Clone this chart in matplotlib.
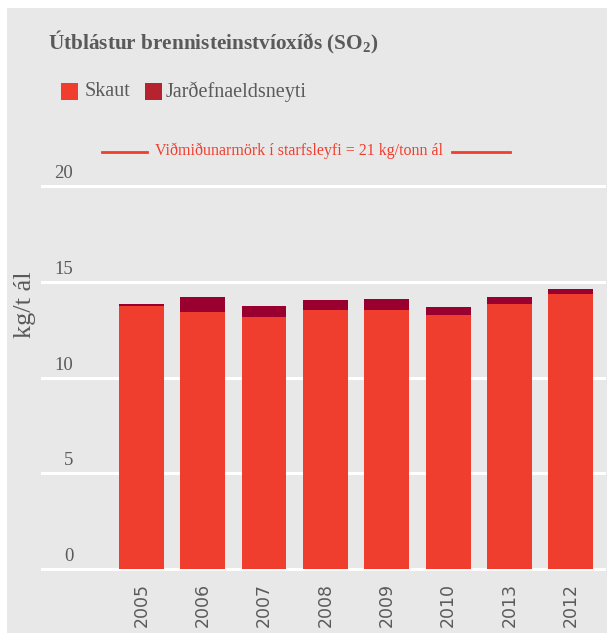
import matplotlib.pyplot as plt
from matplotlib.patches import Rectangle

years = ['2005', '2006', '2007', '2008', '2009', '2010', '2013', '2012']
skaut = [13.72, 13.40, 13.14, 13.51, 13.51, 13.25, 13.82, 14.35]
total = [13.82, 14.19, 13.72, 14.03, 14.08, 13.66, 14.19, 14.61]
jardefna = [t - s for t, s in zip(total, skaut)]
yticks = [0, 5, 10, 15, 20]

c_skaut = '#f03e2e'
c_jard = '#99002f'
c_text = '#5a5a5a'
bg = '#e8e8e8'
serif = ['Liberation Serif', 'DejaVu Serif']

plt.rcParams['mathtext.fontset'] = 'custom'
plt.rcParams['mathtext.rm'] = 'Liberation Serif'
plt.rcParams['mathtext.bf'] = 'Liberation Serif:bold'
plt.rcParams['mathtext.it'] = 'Liberation Serif:italic'

fig = plt.figure(figsize=(6.07, 6.33), dpi=100)
fig.patch.set_facecolor('white')
fig.patches.append(Rectangle((7 / 607, 0), 1, 1 - 8 / 633, transform=fig.transFigure,
                             facecolor=bg, edgecolor='none', zorder=-10))

ax = fig.add_axes([42 / 607, 64 / 633, 562 / 607, 383 / 633])
ax.set_facecolor(bg)
x = range(len(years))
ax.bar(x, skaut, width=0.73, color=c_skaut, zorder=3)
ax.bar(x, jardefna, bottom=skaut, width=0.73, color=c_jard, zorder=3)
ax.set_xlim(-1.62, 7.54)
ax.set_ylim(0, 20)
for s in ax.spines.values():
    s.set_visible(False)
for v in yticks:
    ax.axhline(v, color='white', lw=2.2, zorder=1, clip_on=False)
    ax.text(-1.11, v + 0.2, str(v), fontsize=13.5, color=c_text, ha='right', va='bottom',
            family=serif)
ax.set_yticks([])
ax.set_xticks(list(x))
ax.set_xticklabels(years, rotation=90, fontsize=12.5, color=c_text, family='DejaVu Sans')
ax.tick_params(axis='x', length=0, pad=10)

fig.text(25 / 607, 1 - 305 / 633, 'kg/t ál', rotation=90, fontsize=19, color=c_text,
         ha='center', va='center', family=serif)

fig.text(48 / 607, 1 - 42 / 633, r'Útblástur brennisteinstvíoxíðs (SO$_\mathbf{2}$)',
         fontsize=15.3, fontweight='bold', color=c_text, ha='left', va='center', family=serif)

# legend
fig.patches.append(Rectangle((61 / 607, 1 - 100 / 633), 17 / 607, 17 / 633,
                             transform=fig.transFigure, facecolor=c_skaut, edgecolor='none'))
fig.text(85 / 607, 1 - 92 / 633, 'Skaut', fontsize=14.5, color=c_text, ha='left', va='center',
         family=serif)
fig.patches.append(Rectangle((145 / 607, 1 - 100 / 633), 17 / 607, 17 / 633,
                             transform=fig.transFigure, facecolor='#b5232e', edgecolor='none'))
fig.text(166 / 607, 1 - 92 / 633, 'Jarðefnaeldsneyti', fontsize=14.5, color=c_text, ha='left',
         va='center', family=serif)

# reference limit
yl = 1 - 152 / 633
fig.add_artist(plt.Line2D([102 / 607, 147 / 607], [yl, yl], color=c_skaut, lw=2,
                          transform=fig.transFigure))
fig.add_artist(plt.Line2D([452 / 607, 510 / 607], [yl, yl], color=c_skaut, lw=2,
                          transform=fig.transFigure))
fig.text(299 / 607, yl + 1 / 633, 'Viðmiðunarmörk í starfsleyfi = 21 kg/tonn ál', fontsize=11.5,
         color=c_skaut, ha='center', va='center', family=serif)

fig.savefig('out.png', dpi=100, facecolor=fig.get_facecolor())
